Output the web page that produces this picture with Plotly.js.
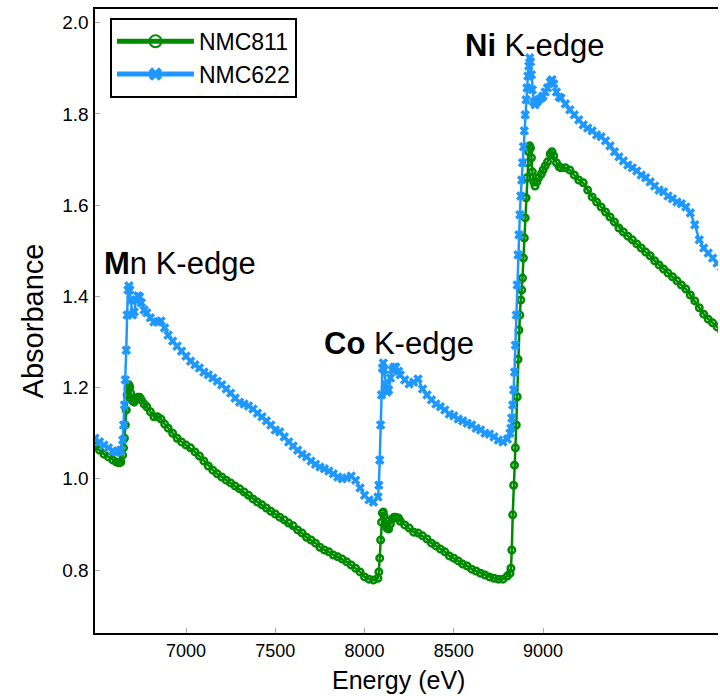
<!DOCTYPE html>
<html>
<head>
<meta charset="utf-8">
<script src="https://cdn.plot.ly/plotly-3.0.1.min.js"></script>
<style>
  html, body { margin: 0; padding: 0; background: #ffffff; overflow: hidden; }
  #chart { width: 720px; height: 696px; }
</style>
</head>
<body>
<div id="chart"></div>
<script>
// Photon energy grid (eV), shared by both spectra
const energy = [
  6490, 6515, 6540, 6565, 6590, 6610, 6625, 6635, 6645, 6650, 6655, 6660, 6665, 6670, 6675, 6680, 6685, 6690,
  6700, 6710, 6720, 6730, 6740, 6750, 6765, 6780, 6800, 6820, 6840, 6860, 6880, 6900, 6925, 6950, 6975,
  7000, 7025, 7050, 7075, 7100, 7125, 7150, 7175, 7200, 7225, 7250, 7275, 7300, 7325, 7350, 7375, 7400,
  7425, 7450, 7475, 7500, 7525, 7550, 7575, 7600, 7625, 7650, 7675, 7700, 7725, 7750, 7775, 7800, 7825,
  7850, 7875, 7900, 7925, 7950, 7975, 8000, 8025, 8050,
  8075, 8080, 8085, 8090, 8095, 8100, 8105, 8110, 8118, 8125, 8135, 8145, 8155, 8165, 8175, 8190, 8200,
  8225, 8250, 8275, 8300, 8325, 8350, 8375, 8400, 8425, 8450, 8475, 8500, 8525, 8550, 8575, 8600, 8625,
  8650, 8675, 8700, 8725, 8750, 8775, 8800, 8815,
  8820, 8825, 8830, 8835, 8840, 8845, 8850, 8855, 8860, 8865, 8870, 8875, 8880, 8885, 8890, 8895, 8900,
  8905, 8910, 8915, 8920, 8925, 8930,
  8935, 8940, 8948, 8955, 8965, 8975, 8990, 9000, 9012, 9025, 9040, 9050, 9060, 9075, 9090, 9100,
  9125, 9150, 9175, 9200, 9225, 9250, 9275, 9300, 9325, 9350, 9375, 9400, 9425, 9450, 9475, 9500, 9525,
  9550, 9575, 9600, 9625, 9650, 9675, 9700, 9725, 9750, 9775, 9800, 9825, 9850, 9875, 9900, 9925, 9950,
  9975, 10000
];

// NMC811 absorbance
const nmc811 = [
  1.072, 1.063, 1.054, 1.048, 1.041, 1.037, 1.035, 1.037, 1.052, 1.068, 1.089, 1.118, 1.151, 1.184, 1.199, 1.206, 1.201, 1.188,
  1.171, 1.168, 1.175, 1.179, 1.179, 1.173, 1.164, 1.158, 1.147, 1.136, 1.136, 1.131, 1.120, 1.111, 1.100, 1.089, 1.081,
  1.074, 1.068, 1.059, 1.050, 1.039, 1.028, 1.019, 1.011, 1.004, 0.997, 0.991, 0.984, 0.978, 0.971, 0.964, 0.956, 0.949,
  0.943, 0.936, 0.929, 0.923, 0.916, 0.910, 0.903, 0.897, 0.888, 0.881, 0.872, 0.866, 0.859, 0.850, 0.844, 0.840, 0.833,
  0.829, 0.824, 0.818, 0.811, 0.804, 0.796, 0.785, 0.780, 0.778,
  0.782, 0.796, 0.826, 0.866, 0.905, 0.925, 0.927, 0.918, 0.901, 0.892, 0.890, 0.901, 0.912, 0.916, 0.916, 0.914, 0.907,
  0.899, 0.892, 0.883, 0.881, 0.875, 0.868, 0.859, 0.853, 0.846, 0.840, 0.831, 0.826, 0.820, 0.813, 0.809, 0.802, 0.798,
  0.793, 0.789, 0.785, 0.782, 0.780, 0.780, 0.787, 0.793,
  0.804, 0.844, 0.921, 0.986, 1.030, 1.068, 1.118, 1.180, 1.262, 1.326, 1.359, 1.392, 1.414, 1.440, 1.484, 1.528, 1.572,
  1.616, 1.660, 1.693, 1.717, 1.730, 1.725,
  1.704, 1.673, 1.651, 1.642, 1.651, 1.660, 1.668, 1.677, 1.686, 1.695, 1.712, 1.717, 1.708, 1.693, 1.684, 1.682,
  1.682, 1.677, 1.666, 1.655, 1.649, 1.633, 1.618, 1.607, 1.596, 1.585, 1.574, 1.563, 1.550, 1.541, 1.532, 1.524, 1.515,
  1.506, 1.497, 1.489, 1.478, 1.469, 1.460, 1.451, 1.443, 1.434, 1.425, 1.416, 1.403, 1.390, 1.375, 1.361, 1.350, 1.342,
  1.333, 1.324
];

// NMC622 absorbance
const nmc622 = [
  1.089, 1.081, 1.074, 1.068, 1.061, 1.059, 1.059, 1.063, 1.085, 1.118, 1.162, 1.217, 1.282, 1.359, 1.414, 1.423, 1.414, 1.392,
  1.359, 1.366, 1.392, 1.401, 1.399, 1.386, 1.370, 1.364, 1.353, 1.344, 1.344, 1.346, 1.331, 1.315, 1.302, 1.291, 1.280,
  1.269, 1.258, 1.250, 1.243, 1.234, 1.228, 1.221, 1.214, 1.206, 1.197, 1.188, 1.177, 1.168, 1.164, 1.160, 1.153, 1.144,
  1.136, 1.127, 1.118, 1.107, 1.103, 1.092, 1.081, 1.072, 1.063, 1.054, 1.048, 1.039, 1.032, 1.026, 1.022, 1.017, 1.011,
  1.004, 1.000, 1.002, 1.006, 0.997, 0.980, 0.964, 0.954, 0.949,
  0.960, 0.986, 1.041, 1.118, 1.184, 1.243, 1.254, 1.239, 1.206, 1.190, 1.195, 1.221, 1.239, 1.245, 1.245, 1.236, 1.228,
  1.217, 1.208, 1.212, 1.219, 1.197, 1.184, 1.173, 1.164, 1.158, 1.151, 1.142, 1.138, 1.131, 1.127, 1.122, 1.118, 1.111,
  1.107, 1.100, 1.098, 1.092, 1.085, 1.081, 1.087, 1.100,
  1.111, 1.133, 1.162, 1.195, 1.234, 1.293, 1.359, 1.425, 1.491, 1.535, 1.579, 1.620, 1.655, 1.693, 1.728, 1.763, 1.798,
  1.831, 1.857, 1.883, 1.905, 1.923, 1.914,
  1.886, 1.853, 1.826, 1.820, 1.826, 1.831, 1.835, 1.839, 1.848, 1.857, 1.870, 1.875, 1.866, 1.848, 1.837, 1.835,
  1.822, 1.809, 1.798, 1.787, 1.776, 1.769, 1.763, 1.754, 1.750, 1.741, 1.730, 1.717, 1.706, 1.697, 1.688, 1.682, 1.675,
  1.666, 1.660, 1.651, 1.642, 1.633, 1.629, 1.620, 1.614, 1.607, 1.603, 1.596, 1.583, 1.557, 1.524, 1.506, 1.495, 1.484,
  1.473, 1.464
];

// Axis ticks on the energy axis
const energyTicks = [7000, 7500, 8000, 8500, 9000];
const energyTickText = ['7000', '7500', '8000', '8500', '9000'];

// Edge labels: [html text, energy, absorbance]
const edgeLabels = [
  ['<b>M</b>n K-edge', 6529, 1.471],
  ['<b>Co</b> K-edge', 7762, 1.296],
  ['<b>Ni</b> K-edge', 8552, 1.951]
];

const FONT = 'Liberation Sans, Arial, Helvetica, sans-serif';
const GREEN = '#008A00';
const BLUE = '#1E98FF';

const traces = [
  {
    type: 'scatter', mode: 'lines+markers', name: 'NMC811',
    x: energy, y: nmc811,
    line: { color: GREEN, width: 2.5 },
    marker: { symbol: 'circle-open', size: 6.5, color: GREEN, line: { color: GREEN, width: 2.5 } }
  },
  {
    type: 'scatter', mode: 'lines+markers', name: 'NMC622',
    x: energy, y: nmc622,
    line: { color: BLUE, width: 2.5 },
    marker: { symbol: 'x', size: 8.5, color: BLUE, line: { width: 0 } }
  }
];

const layout = {
  width: 720, height: 696,
  margin: { l: 95, r: 2, t: 9, b: 63 },
  paper_bgcolor: '#ffffff', plot_bgcolor: '#ffffff',
  font: { family: FONT, color: '#000000' },
  showlegend: true,
  legend: {
    x: 0.024, y: 0.986, xanchor: 'left', yanchor: 'top',
    bgcolor: '#ffffff', bordercolor: '#000000', borderwidth: 2,
    font: { family: FONT, size: 23, color: '#000000' },
    itemsizing: 'constant', itemwidth: 77,
    tracegroupgap: 0
  },
  xaxis: {
    range: [6490, 9980],
    tickvals: energyTicks, ticktext: energyTickText,
    ticks: 'inside', ticklen: 5, tickwidth: 1, tickcolor: '#aaaaaa',
    tickfont: { family: FONT, size: 18, color: '#000000' },
    showline: true, linecolor: '#000000', linewidth: 2, mirror: true,
    showgrid: false, zeroline: false,
    automargin: false
  },
  yaxis: {
    range: [0.662, 2.030],
    tick0: 0.8, dtick: 0.2, tickformat: '.1f',
    ticks: 'inside', ticklen: 5, tickwidth: 1, tickcolor: '#aaaaaa',
    tickfont: { family: FONT, size: 19, color: '#000000' },
    showline: true, linecolor: '#000000', linewidth: 2.5, mirror: false,
    showgrid: false, zeroline: false,
    title: { text: 'Absorbance', font: { family: FONT, size: 29, color: '#000000' }, standoff: 10 },
    automargin: false
  },
  annotations: edgeLabels.map(([text, x, y]) => ({
    text: text, x: x, y: y, xref: 'x', yref: 'y',
    xanchor: 'left', yanchor: 'middle', showarrow: false,
    font: { family: FONT, size: 31, color: '#000000' }
  })).concat([{
    // energy axis title, centred under the labelled ticks
    text: 'Energy (eV)', xref: 'paper', yref: 'paper', x: 0.4864, y: 0,
    xanchor: 'center', yanchor: 'top', yshift: -31, showarrow: false,
    font: { family: FONT, size: 25, color: '#000000' }
  }])
};

Plotly.newPlot('chart', traces, layout, { displayModeBar: false, staticPlot: true });
</script>
</body>
</html>
